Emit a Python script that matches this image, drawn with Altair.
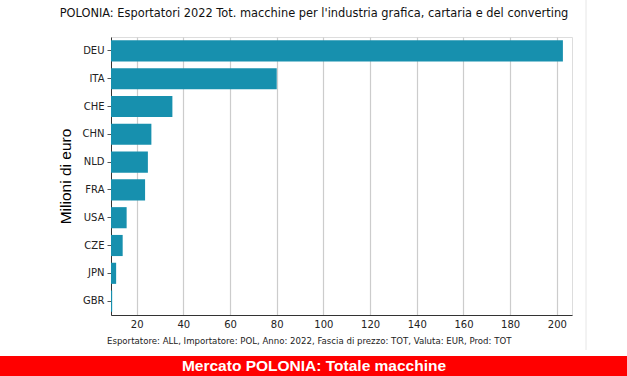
import altair as alt
import pandas as pd

countries = ["DEU", "ITA", "CHE", "CHN", "NLD", "FRA", "USA", "CZE", "JPN", "GBR"]
values = [202.6, 80.0, 35.3, 26.3, 24.8, 23.6, 15.7, 14.0, 11.2, 9.5]
x_ticks = [20, 40, 60, 80, 100, 120, 140, 160, 180, 200]

title_text = "POLONIA: Esportatori 2022 Tot. macchine per l'industria grafica, cartaria e del converting"
footnote_text = "Esportatore: ALL, Importatore: POL, Anno: 2022, Fascia di prezzo: TOT, Valuta: EUR, Prod: TOT"
banner_text = "Mercato POLONIA: Totale macchine"

df = pd.DataFrame({"paese": countries, "valore": values})
one = pd.DataFrame({"k": [0]})

W, H = 461, 278
PL, PT, PR, PB = 111, 37, 55, 61

bars = alt.Chart(df).mark_bar(color="#1790ae", clip=True).encode(
    y=alt.Y("paese:N", sort=countries,
            scale=alt.Scale(paddingInner=0.24, paddingOuter=0.12),
            axis=alt.Axis(title="Milioni di euro", titleFont="Liberation Sans",
                          titleFontSize=15.5, titleFontWeight="normal", titleColor="#000",
                          titlePadding=9, labelFont="DejaVu Sans", labelFontSize=10,
                          labelColor="#222", tickColor="#555", tickSize=4,
                          domainColor="#333", grid=False, labelPadding=3)),
    x=alt.X("valore:Q", scale=alt.Scale(domain=[9, 206.5], zero=False, nice=False),
            axis=alt.Axis(title=None, values=x_ticks, labelFont="DejaVu Sans",
                          labelFontSize=10, labelColor="#222", grid=True,
                          gridColor="#cccccc", gridWidth=1.2, ticks=False,
                          domainColor="#333", labelPadding=4)),
    x2=alt.datum(9),
)

title = alt.Chart(one).mark_text(text=title_text, font="DejaVu Sans", fontSize=11.4,
                                 color="#111", align="center", baseline="middle").encode(
    x=alt.value(314 - PL), y=alt.value(14 - PT))

foot = alt.Chart(one).mark_text(text=footnote_text, font="DejaVu Sans", fontSize=8.6,
                                color="#222", align="left", baseline="middle").encode(
    x=alt.value(107 - PL), y=alt.value(341 - PT))

banner = alt.Chart(one).mark_rect(color="#ff0000").encode(
    x=alt.value(-PL), x2=alt.value(W + PR), y=alt.value(356 - PT), y2=alt.value(H + PB))

banner_t = alt.Chart(one).mark_text(text=banner_text, font="Liberation Sans", fontSize=15.5,
                                    fontWeight="bold", color="white", align="center",
                                    baseline="middle").encode(
    x=alt.value(314 - PL), y=alt.value(366 - PT))

border = alt.Chart(one).mark_rule(color="#e6e6e6").encode(
    x=alt.value(586 - PL), y=alt.value(-PT), y2=alt.value(350 - PT))

chart = alt.layer(bars, title, foot, border, banner, banner_t).properties(
    width=W, height=H,
    autosize=alt.AutoSizeParams(type="none"),
    padding={"left": PL, "top": PT, "right": PR, "bottom": PB},
).configure_view(stroke=None).configure(background="white")

chart.save("out.html", embed_options={"renderer": "svg", "actions": False})
